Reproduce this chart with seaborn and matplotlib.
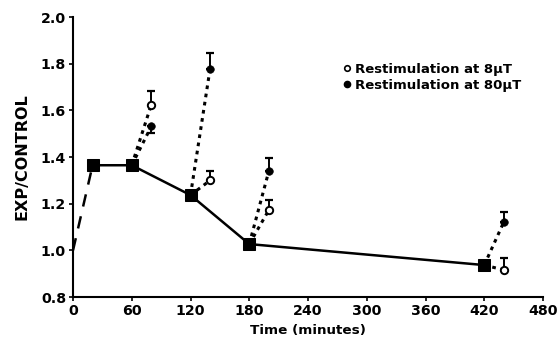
import matplotlib
matplotlib.use("Agg")
import matplotlib.pyplot as plt
from matplotlib.lines import Line2D
import pandas as pd
import seaborn as sns

# Time course of the exposure/control ratio
main_time = [0, 20, 60, 120, 180, 420]
main_ratio = [1.0, 1.365, 1.365, 1.237, 1.027, 0.937]

# Restimulation: starts from the main curve, measured 20 min later
restim_start = [60, 120, 180, 420]
restim_time = [80, 140, 200, 440]
low_ratio = [1.625, 1.30, 1.173, 0.916]     # 8 uT
low_err = [0.06, 0.04, 0.042, 0.05]
high_ratio = [1.532, 1.779, 1.34, 1.122]    # 80 uT
high_err = [0.03, 0.067, 0.054, 0.041]
high_err_down = [True, False, False, False]

x_ticks = [0, 60, 120, 180, 240, 300, 360, 420, 480]
y_ticks = [0.8, 1.0, 1.2, 1.4, 1.6, 1.8, 2.0]
legend_labels = ["Restimulation at 8\u00b5T", "Restimulation at 80\u00b5T"]

sns.set_style("ticks", {"axes.edgecolor": "black", "text.color": "black",
                        "xtick.color": "black", "ytick.color": "black",
                        "axes.labelcolor": "black"})
plt.rcParams["font.family"] = ["DejaVu Sans"]
plt.rcParams["font.weight"] = "bold"

fig = plt.figure(figsize=(5.59, 3.57), dpi=100)
ax = fig.add_axes([0.1306, 0.168, 0.8408, 0.784])

main_df = pd.DataFrame({"time": main_time, "ratio": main_ratio})
start_ratio = dict(zip(main_time, main_ratio))

# dotted restimulation segments
seg_rows = []
seg_id = 0
for t0, t1, lo, hi in zip(restim_start, restim_time, low_ratio, high_ratio):
    for val in (lo, hi):
        seg_rows.append({"seg": seg_id, "time": t0, "ratio": start_ratio[t0]})
        seg_rows.append({"seg": seg_id, "time": t1, "ratio": val})
        seg_id += 1
seg_df = pd.DataFrame(seg_rows)
sns.lineplot(data=seg_df, x="time", y="ratio", units="seg", estimator=None,
             color="black", lw=2.2, linestyle=(0, (1.2, 1.5)), ax=ax,
             legend=False, sort=False)

# initial rise (dashed) and the main curve
sns.lineplot(data=main_df.iloc[:2], x="time", y="ratio", color="black",
             lw=1.8, linestyle=(0, (5, 4)), ax=ax, legend=False)
sns.lineplot(data=main_df.iloc[1:], x="time", y="ratio", color="black",
             lw=1.8, marker="s", markersize=8.5, markeredgecolor="black",
             ax=ax, legend=False)

# one-sided error bars
for t, v, e in zip(restim_time, low_ratio, low_err):
    ax.errorbar([t], [v], yerr=[[0], [e]], fmt="none", ecolor="black",
                elinewidth=1.4, capsize=3, capthick=1.6)
for t, v, e, down in zip(restim_time, high_ratio, high_err, high_err_down):
    yerr = [[e], [0]] if down else [[0], [e]]
    ax.errorbar([t], [v], yerr=yerr, fmt="none", ecolor="black",
                elinewidth=1.4, capsize=3, capthick=1.6)

sns.scatterplot(x=restim_time, y=low_ratio, marker="o", s=28,
                facecolor="white", edgecolor="black", linewidth=1.4,
                ax=ax, zorder=5)
sns.scatterplot(x=restim_time, y=high_ratio, marker="o", s=30,
                color="black", edgecolor="black", ax=ax, zorder=5)

ax.set_xlim(0, 480)
ax.set_ylim(0.8, 2.0)
ax.set_xticks(x_ticks)
ax.set_xticklabels([str(t) for t in x_ticks])
ax.set_yticks(y_ticks)
ax.set_yticklabels([f"{v:.1f}" for v in y_ticks])
ax.tick_params(axis="both", direction="out", length=3, width=1.2,
               labelsize=10.2, pad=2, colors="black")
for lab in ax.get_xticklabels() + ax.get_yticklabels():
    lab.set_fontweight("bold")
for side in ("left", "bottom"):
    ax.spines[side].set_linewidth(1.5)
    ax.spines[side].set_color("black")
sns.despine(ax=ax)

ax.set_xlabel("Time (minutes)", fontsize=9.7, fontweight="bold", labelpad=4,
              color="black")
ax.set_ylabel("EXP/CONTROL", fontsize=11.5, fontweight="bold", labelpad=8,
              color="black")

handles = [
    Line2D([], [], marker="o", linestyle="none", markersize=4,
           markerfacecolor="white", markeredgecolor="black", markeredgewidth=1.2),
    Line2D([], [], marker="o", linestyle="none", markersize=4.5,
           color="black"),
]
leg = ax.legend(handles, legend_labels, loc="upper left",
                bbox_to_anchor=(0.56, 0.855), frameon=False,
                handletextpad=0.2, handlelength=0.8, labelspacing=0.2,
                borderaxespad=0, prop={"size": 9.5, "weight": "bold"})
for txt in leg.get_texts():
    txt.set_color("black")

fig.savefig("out.png", dpi=100)
